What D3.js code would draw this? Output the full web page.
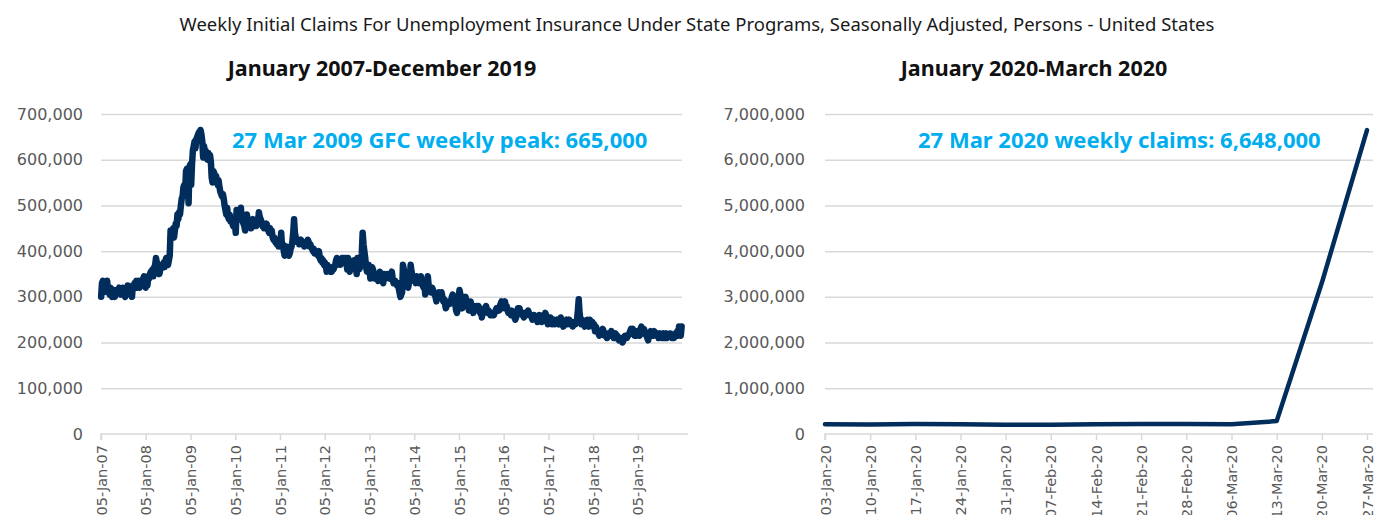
<!DOCTYPE html>
<html>
<head>
<meta charset="utf-8">
<script src="https://cdn.jsdelivr.net/npm/d3@7"></script>
<style>
  body { margin: 0; background: #fff; }
  svg { font-family: "Noto Sans", sans-serif; }
</style>
</head>
<body>
<svg id="chart" width="1391" height="515"></svg>
<script>
// weekly initial claims, thousands, one array per calendar year (weeks ending Saturday)
const claims2007 = [300, 330, 335, 310, 320, 330, 315, 335, 315, 310, 305, 320, 315, 300, 315, 315, 300, 310, 315, 310, 315, 320, 310, 305, 310, 320, 315, 305, 300, 315, 305, 325, 320, 310, 305, 320, 300, 325, 320, 330, 325, 335, 320, 330, 335, 320, 330, 335, 325, 340, 345, 330]
const claims2008 = [320, 330, 325, 345, 340, 350, 355, 345, 360, 345, 365, 370, 385, 375, 355, 365, 350, 360, 370, 365, 370, 375, 365, 380, 385, 375, 370, 380, 390, 445, 430, 440, 450, 430, 445, 460, 455, 480, 470, 485, 480, 500, 515, 520, 540, 545, 530, 575, 580, 560, 505, 585]
const claims2009 = [590, 545, 590, 620, 630, 640, 625, 645, 650, 655, 660, 650, 665, 655, 640, 605, 630, 615, 620, 610, 600, 615, 605, 610, 595, 560, 550, 575, 570, 560, 565, 555, 545, 555, 540, 530, 525, 520, 525, 515, 500, 490, 480, 495, 475, 470, 480, 465, 470, 460, 455, 470]
const claims2010 = [460, 440, 490, 470, 480, 470, 475, 495, 470, 465, 460, 455, 445, 460, 480, 465, 455, 460, 465, 450, 460, 470, 455, 460, 465, 455, 470, 465, 485, 475, 470, 465, 455, 460, 450, 455, 455, 460, 450, 445, 440, 450, 440, 445, 430, 425, 430, 420, 425, 415, 420, 410]
const claims2011 = [415, 420, 440, 410, 415, 400, 390, 395, 410, 400, 395, 390, 395, 405, 410, 420, 440, 470, 440, 430, 425, 420, 425, 415, 420, 425, 420, 415, 420, 410, 415, 420, 415, 425, 420, 410, 415, 410, 405, 400, 405, 395, 400, 395, 395, 390, 400, 385, 380, 385, 375, 380, 370]
const claims2012 = [375, 370, 355, 370, 360, 365, 355, 360, 355, 365, 360, 365, 370, 380, 385, 380, 375, 370, 370, 375, 385, 385, 380, 375, 385, 375, 360, 385, 370, 355, 370, 375, 375, 370, 380, 380, 370, 350, 385, 370, 360, 365, 370, 395, 440, 415, 400, 385, 365, 355, 370, 370]
const claims2013 = [360, 340, 345, 365, 360, 350, 340, 345, 350, 340, 335, 345, 355, 350, 340, 335, 330, 350, 345, 340, 345, 350, 345, 345, 340, 350, 355, 340, 330, 335, 335, 330, 325, 330, 320, 310, 300, 305, 310, 370, 360, 345, 340, 335, 330, 320, 330, 340, 370, 355, 345, 335]
const claims2014 = [335, 340, 330, 345, 340, 335, 330, 340, 345, 330, 325, 320, 330, 305, 310, 330, 345, 325, 320, 315, 310, 320, 315, 310, 305, 300, 290, 300, 305, 310, 300, 300, 310, 300, 290, 295, 285, 275, 280, 285, 290, 290, 285, 290, 300, 305, 295, 290, 285, 270, 265, 295]
const claims2015 = [300, 315, 305, 280, 275, 280, 285, 290, 300, 290, 285, 280, 270, 275, 290, 270, 275, 265, 280, 275, 275, 280, 270, 280, 275, 265, 270, 255, 265, 270, 275, 275, 280, 270, 265, 270, 265, 260, 265, 260, 265, 260, 265, 270, 275, 270, 275, 270, 280, 285, 290, 275]
const claims2016 = [280, 285, 290, 275, 280, 270, 265, 270, 265, 260, 270, 265, 265, 255, 250, 255, 265, 275, 270, 275, 265, 265, 260, 260, 255, 265, 265, 260, 265, 270, 265, 260, 260, 255, 250, 255, 260, 255, 250, 250, 245, 255, 260, 255, 250, 245, 255, 260, 255, 265, 260, 250, 240]
const claims2017 = [250, 245, 255, 250, 240, 245, 250, 240, 245, 245, 250, 245, 240, 245, 255, 245, 240, 235, 245, 240, 245, 250, 240, 245, 250, 245, 240, 245, 235, 240, 245, 240, 245, 250, 270, 295, 265, 250, 240, 250, 245, 240, 235, 245, 240, 250, 240, 235, 250, 245, 240, 245]
const claims2018 = [235, 240, 225, 235, 230, 225, 220, 215, 225, 220, 220, 230, 225, 215, 220, 215, 210, 215, 220, 215, 220, 225, 220, 215, 210, 215, 220, 210, 215, 210, 205, 210, 205, 210, 200, 205, 210, 215, 215, 210, 215, 215, 220, 225, 230, 225, 230, 225, 215, 220, 215, 220]
const claims2019 = [225, 220, 215, 230, 235, 225, 220, 230, 225, 220, 215, 210, 205, 220, 215, 225, 215, 220, 215, 225, 220, 215, 215, 220, 210, 215, 220, 215, 210, 215, 220, 210, 215, 220, 210, 215, 215, 220, 220, 215, 210, 215, 210, 215, 220, 215, 225, 215, 235, 225, 215, 235]

const yearlyClaims = [claims2007, claims2008, claims2009, claims2010, claims2011, claims2012, claims2013, claims2014, claims2015, claims2016, claims2017, claims2018, claims2019]
const firstWeekOfYear = ["2007-01-06", "2008-01-05", "2009-01-03", "2010-01-02", "2011-01-01", "2012-01-07", "2013-01-05", "2014-01-04", "2015-01-03", "2016-01-02", "2017-01-07", "2018-01-06", "2019-01-05"]
const yearTickDates = ["2007-01-05", "2008-01-05", "2009-01-05", "2010-01-05", "2011-01-05", "2012-01-05", "2013-01-05", "2014-01-05", "2015-01-05", "2016-01-05", "2017-01-05", "2018-01-05", "2019-01-05"]
const leftTicks = [0, 100, 200, 300, 400, 500, 600, 700]

const weeks2020 = ["03-Jan-20", "10-Jan-20", "17-Jan-20", "24-Jan-20", "31-Jan-20", "07-Feb-20", "14-Feb-20", "21-Feb-20", "28-Feb-20", "06-Mar-20", "13-Mar-20", "20-Mar-20", "27-Mar-20"]
const claims2020 = [212000, 207000, 220000, 212000, 202000, 205000, 213000, 220000, 217000, 211000, 282000, 3307000, 6648000]
const rightTicks = [0, 1000000, 2000000, 3000000, 4000000, 5000000, 6000000, 7000000]

const navy = "#002d5b"
const cyan = "#00aeef"
const grey = "#595959"
const gridColour = "#d9d9d9"

const parse = d3.timeParse("%Y-%m-%d")
const fmtTick = d3.timeFormat("%d-%b-%y")
const comma = d3.format(",")

const series = []
yearlyClaims.forEach((arr, i) => {
  const start = parse(firstWeekOfYear[i])
  arr.forEach((v, k) => series.push({ date: d3.timeDay.offset(start, 7 * k), value: v }))
})

const svg = d3.select("#chart")

svg.append("text")
  .attr("x", 697).attr("y", 31)
  .attr("text-anchor", "middle")
  .attr("font-size", 18.5)
  .attr("fill", "#1a1a1a")
  .text("Weekly Initial Claims For Unemployment Insurance Under State Programs, Seasonally Adjusted, Persons - United States")

// ---------- left panel ----------
const L = { left: 101, right: 682, top: 114, bottom: 434 }

const xLeft = d3.scaleTime()
  .domain([parse("2007-01-05"), parse("2019-12-31")])
  .range([L.left, L.right])
const yLeft = d3.scaleLinear().domain([0, 700]).range([L.bottom, L.top])

svg.append("text")
  .attr("x", 382).attr("y", 76)
  .attr("text-anchor", "middle")
  .attr("font-size", 21.5).attr("font-weight", "bold")
  .attr("fill", "#111")
  .text("January 2007-December 2019")

const gl = svg.append("g")
  .attr("transform", `translate(${L.left},0)`)
  .call(d3.axisLeft(yLeft).tickValues(leftTicks).tickSize(-(L.right - L.left)).tickPadding(18).tickFormat(d => comma(d * 1000)))
gl.select(".domain").remove()
gl.selectAll(".tick line").attr("stroke", gridColour).attr("stroke-width", 1.5)
gl.selectAll(".tick text").attr("fill", grey).attr("font-size", 16).attr("font-family", "DejaVu Sans")
gl.selectAll(".tick").filter(d => d === 0).select("line").remove()

const gxl = svg.append("g")
  .attr("transform", `translate(0,${L.bottom})`)
  .call(d3.axisBottom(xLeft).tickValues(yearTickDates.map(parse)).tickSize(6).tickFormat(fmtTick))
gxl.select(".domain").attr("stroke", gridColour).attr("stroke-width", 1.5).attr("d", `M${L.left},6V0H${L.right + 6}`)
gxl.selectAll(".tick line").attr("stroke", gridColour).attr("stroke-width", 1.5)
gxl.selectAll(".tick text")
  .attr("fill", grey).attr("font-size", 14.5).attr("font-family", "DejaVu Sans")
  .attr("text-anchor", "end")
  .attr("transform", "rotate(-90)")
  .attr("x", -11).attr("y", 0).attr("dy", "0.35em")

svg.append("path")
  .datum(series)
  .attr("fill", "none")
  .attr("stroke", navy)
  .attr("stroke-width", 6.5)
  .attr("stroke-linejoin", "round")
  .attr("stroke-linecap", "round")
  .attr("d", d3.line().x(d => xLeft(d.date)).y(d => yLeft(d.value)))

svg.append("text")
  .attr("x", 232).attr("y", 148)
  .attr("font-size", 22).attr("font-weight", "bold")
  .attr("fill", cyan)
  .text("27 Mar 2009 GFC weekly peak: 665,000")

// ---------- right panel ----------
const R = { left: 825, right: 1367, top: 114, bottom: 434 }

const xRight = d3.scalePoint().domain(weeks2020).range([R.left, R.right])
const yRight = d3.scaleLinear().domain([0, 7000000]).range([R.bottom, R.top])

svg.append("text")
  .attr("x", 1034).attr("y", 76)
  .attr("text-anchor", "middle")
  .attr("font-size", 21.5).attr("font-weight", "bold")
  .attr("fill", "#111")
  .text("January 2020-March 2020")

const gr = svg.append("g")
  .attr("transform", `translate(${R.left},0)`)
  .call(d3.axisLeft(yRight).tickValues(rightTicks).tickSize(-(R.right - R.left + 6)).tickPadding(20).tickFormat(comma))
gr.select(".domain").remove()
gr.selectAll(".tick line").attr("stroke", gridColour).attr("stroke-width", 1.5)
gr.selectAll(".tick text").attr("fill", grey).attr("font-size", 16).attr("font-family", "DejaVu Sans")
gr.selectAll(".tick").filter(d => d === 0).select("line").remove()

const gxr = svg.append("g")
  .attr("transform", `translate(0,${R.bottom})`)
  .call(d3.axisBottom(xRight).tickSize(6))
gxr.select(".domain").attr("stroke", gridColour).attr("stroke-width", 1.5).attr("d", `M${R.left},6V0H${R.right + 6}`)
gxr.selectAll(".tick line").attr("stroke", gridColour).attr("stroke-width", 1.5)
gxr.selectAll(".tick text")
  .attr("fill", grey).attr("font-size", 14.5).attr("font-family", "DejaVu Sans")
  .attr("text-anchor", "end")
  .attr("transform", "rotate(-90)")
  .attr("x", -11).attr("y", 0).attr("dy", "0.35em")

svg.append("path")
  .datum(claims2020)
  .attr("fill", "none")
  .attr("stroke", navy)
  .attr("stroke-width", 4.5)
  .attr("stroke-linejoin", "round")
  .attr("stroke-linecap", "round")
  .attr("d", d3.line().x((d, i) => xRight(weeks2020[i])).y(d => yRight(d)))

svg.append("text")
  .attr("x", 918).attr("y", 148)
  .attr("font-size", 22).attr("font-weight", "bold")
  .attr("fill", cyan)
  .text("27 Mar 2020 weekly claims: 6,648,000")
</script>
</body>
</html>
